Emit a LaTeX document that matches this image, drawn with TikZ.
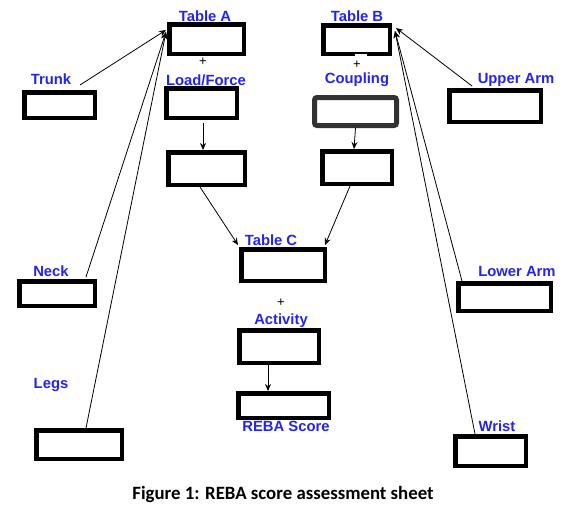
\documentclass[tikz,border=0pt]{standalone}
\usepackage{fontspec}
\setmainfont{Liberation Sans}
\newfontfamily\capfont{Carlito}
\usetikzlibrary{arrows.meta,calc}
\definecolor{lblue}{RGB}{35,35,245}
\definecolor{cpgray}{RGB}{50,50,50}
\tikzset{
  box/.style={draw=black, line width=4.5pt, fill=white, inner sep=0pt},
  lbl/.style={text=lblue, font=\fontsize{14.8}{14.8}\selectfont\bfseries, inner sep=0pt},
  plus/.style={font=\fontsize{13}{13}\selectfont, inner sep=0pt},
  conn/.style={line width=0.8pt, -{Stealth[length=7pt,width=6pt]}}
}
\begin{document}
\begin{tikzpicture}[x=1pt,y=-1pt]
\useasboundingbox (0,0) rectangle (577,514);
% boxes
\node[box, minimum width=74.5pt, minimum height=29.5pt] (ta) at (206.5,39) {};
\node[box, minimum width=70.5pt, minimum height=25.5pt] (trunk) at (59.5,105) {};
\node[box, minimum width=70.5pt, minimum height=29.5pt] (lf) at (201.5,103) {};
\node[box, minimum width=76.5pt, minimum height=32.5pt] (la) at (206.5,168.5) {};
\node[box, minimum width=66.5pt, minimum height=28.5pt] (tb) at (356.5,39.5) {};
\node[box, draw=cpgray, line width=5pt, rounded corners=2.5pt, minimum width=82pt, minimum height=28pt] (cp) at (355.5,111.5) {};
\node[box, minimum width=69.5pt, minimum height=32.5pt] (cb) at (357,167.5) {};
\node[box, minimum width=91.5pt, minimum height=31.5pt] (ua) at (495,106) {};
\node[box, minimum width=83.5pt, minimum height=31.5pt] (tc) at (283,265) {};
\node[box, minimum width=75.5pt, minimum height=24.5pt] (neck) at (57,293.5) {};
\node[box, minimum width=79.5pt, minimum height=32.5pt] (act) at (279,346.5) {};
\node[box, minimum width=90.5pt, minimum height=24.5pt] (reba) at (283.5,405.5) {};
\node[box, minimum width=85.5pt, minimum height=28.5pt] (legs) at (79,444.5) {};
\node[box, minimum width=92.5pt, minimum height=27.5pt] (lowa) at (504.5,297) {};
\node[box, minimum width=70.5pt, minimum height=29.5pt] (wrist) at (490.5,451) {};
\fill[white] (355,53.5) rectangle (367,57);
% labels
\node[lbl] (lta) at (205,16) {Table A};
\node[lbl] (ltrunk) at (51,79.5) {Trunk};
\node[lbl] (llf) at (206,80) {Load/Force};
\node[lbl] (ltb) at (357,16) {Table B};
\node[lbl] (lcp) at (357,80) {Coupling};
\node[lbl] (lua) at (516,80) {Upper Arm};
\node[lbl] (ltc) at (271,240.5) {Table C};
\node[lbl] (lact) at (281,321) {Activity};
\node[lbl] (lreba) at (286,426) {REBA Score};
\node[lbl] (lneck) at (51,271) {Neck};
\node[lbl] (llegs) at (51,385) {Legs};
\node[lbl] (llowa) at (517,271) {Lower Arm};
\node[lbl] (lwrist) at (497,426) {Wrist};
\node[plus] (pa) at (203,62) {+};
\node[plus] (pb) at (357,64.5) {+};
\node[plus] (pc) at (281,302.5) {+};
% caption
\node[font=\capfont\fontsize{18.8}{18.8}\selectfont\bfseries, inner sep=0pt] (cap) at (283,494) {Figure 1: REBA score assessment sheet};
% connectors
\draw[conn] ([xshift=20.5pt,yshift=5pt]trunk.north) -- ([xshift=-1pt,yshift=-8pt]ta.north west);
\draw[conn] ([xshift=29pt,yshift=2pt]neck.north) -- ([xshift=-1pt,yshift=-10pt]ta.north west);
\draw[conn] ([xshift=7pt]legs.north) -- ([xshift=-1pt,yshift=-10pt]ta.north west);
\draw[conn] ([xshift=-23pt,yshift=2pt]ua.north) -- ([xshift=4pt,yshift=-5pt]tb.north east);
\draw[conn] ([xshift=6pt]lowa.north west) -- ([xshift=3pt,yshift=-8pt]tb.north east);
\draw[conn] ([xshift=22pt]wrist.north west) -- ([xshift=3pt,yshift=-8pt]tb.north east);
\draw[conn] ([xshift=1.5pt,yshift=-3pt]lf.south) -- ([xshift=1.5pt]lf.south |- la.north);
\draw[conn] (cp.south) -- ([xshift=-3pt]cb.north);
\draw[conn] ([xshift=-6.5pt]la.south) -- ([xshift=-1pt,yshift=2pt]tc.north west);
\draw[conn] ([xshift=-7pt]cb.south) -- ([xshift=-2pt,yshift=2pt]tc.north east);
\draw[conn] ([xshift=-11pt]act.south) -- ([xshift=-11pt]act.south |- reba.north);
\end{tikzpicture}
\end{document}
